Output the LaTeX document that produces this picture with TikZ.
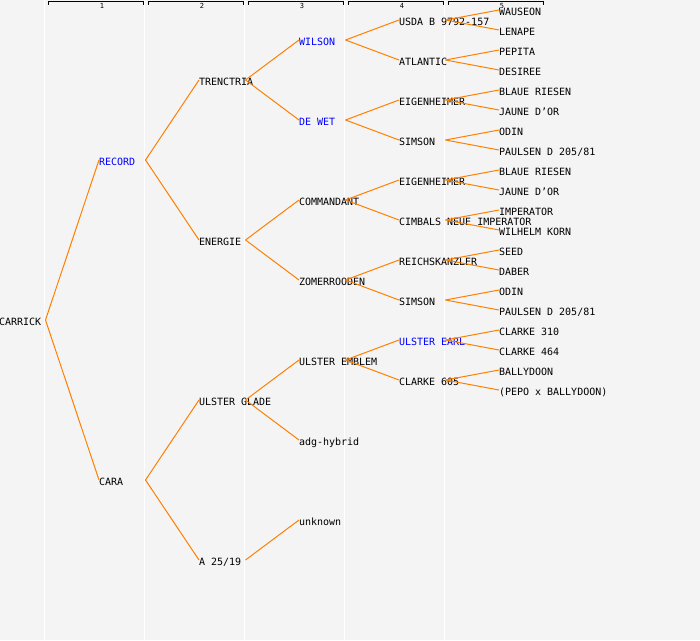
\documentclass[tikz,border=0pt]{standalone}
\usepackage{fontspec}
\usepackage{tikz}
\usetikzlibrary{calc}
\newfontfamily\pedfont{DejaVu Sans Mono}
\definecolor{pedorange}{RGB}{255,128,0}
\definecolor{pedblue}{RGB}{0,0,255}
\definecolor{pedback}{RGB}{244,244,244}

\begin{document}
\begin{tikzpicture}[x=1pt, y=-1pt,
  cultivar/.style={anchor=west, inner sep=0pt, outer sep=0pt, text height=11.3pt, text depth=0pt, font={\pedfont\fontsize{10}{12}\selectfont}},
  keycultivar/.style={cultivar, text=pedblue},
  parentline/.style={pedorange, line width=1pt},
  bracket/.style={black, line width=1pt},
  colnum/.style={inner sep=0pt, font={\pedfont\fontsize{7}{7}\selectfont}}]
\fill[pedback] (0,0) rectangle (700,640);
\useasboundingbox (0,0) rectangle (700,640);
% column guides
\draw[white, line width=1pt] (44.5,0) -- (44.5,640);
\draw[white, line width=1pt] (144.5,0) -- (144.5,640);
\draw[white, line width=1pt] (244.5,0) -- (244.5,640);
\draw[white, line width=1pt] (344.5,0) -- (344.5,640);
\draw[white, line width=1pt] (444.5,0) -- (444.5,640);
\draw[bracket] (48,4.5) -- (48,1.5) -- (143,1.5) -- (143,4.5);
\draw[bracket] (148,4.5) -- (148,1.5) -- (243,1.5) -- (243,4.5);
\draw[bracket] (248,4.5) -- (248,1.5) -- (343,1.5) -- (343,4.5);
\draw[bracket] (348,4.5) -- (348,1.5) -- (443,1.5) -- (443,4.5);
\draw[bracket] (448,4.5) -- (448,1.5) -- (543,1.5) -- (543,4.5);
\node[colnum] (col1) at (102,6) {1};
\node[colnum] (col2) at (202,6) {2};
\node[colnum] (col3) at (302,6) {3};
\node[colnum] (col4) at (402,6) {4};
\node[colnum] (col5) at (502,6) {5};

% generation 0 and 1
\node[cultivar] (carrick) at (-1,320) {CARRICK};
\node[keycultivar] (record) at (99,160) {RECORD};
\node[cultivar] (cara) at (99,480) {CARA};
% generation 2
\node[cultivar] (trenctria) at (199,80) {TRENCTRIA};
\node[cultivar] (energie) at (199,240) {ENERGIE};
\node[cultivar] (ulsterglade) at (199,400) {ULSTER GLADE};
\node[cultivar] (a2519) at (199,560) {A 25/19};
% generation 3
\node[keycultivar] (wilson) at (299,40) {WILSON};
\node[keycultivar] (dewet) at (299,120) {DE WET};
\node[cultivar] (commandant) at (299,200) {COMMANDANT};
\node[cultivar] (zomerrooden) at (299,280) {ZOMERROODEN};
\node[cultivar] (ulsteremblem) at (299,360) {ULSTER EMBLEM};
\node[cultivar] (adghybrid) at (299,440) {adg-hybrid};
\node[cultivar] (unknown) at (299,520) {unknown};
% generation 4
\node[cultivar] (usda) at (399,20) {USDA B 9792-157};
\node[cultivar] (atlantic) at (399,60) {ATLANTIC};
\node[cultivar] (eigenheimerA) at (399,100) {EIGENHEIMER};
\node[cultivar] (simsonA) at (399,140) {SIMSON};
\node[cultivar] (eigenheimerB) at (399,180) {EIGENHEIMER};
\node[cultivar] (cimbals) at (399,220) {CIMBALS NEUE IMPERATOR};
\node[cultivar] (reichskanzler) at (399,260) {REICHSKANZLER};
\node[cultivar] (simsonB) at (399,300) {SIMSON};
\node[keycultivar] (ulsterearl) at (399,340) {ULSTER EARL};
\node[cultivar] (clarke605) at (399,380) {CLARKE 605};
% generation 5
\node[cultivar] (wauseon) at (499,10) {WAUSEON};
\node[cultivar] (lenape) at (499,30) {LENAPE};
\node[cultivar] (pepita) at (499,50) {PEPITA};
\node[cultivar] (desiree) at (499,70) {DESIREE};
\node[cultivar] (blaueA) at (499,90) {BLAUE RIESEN};
\node[cultivar] (jauneA) at (499,110) {JAUNE D’OR};
\node[cultivar] (odinA) at (499,130) {ODIN};
\node[cultivar] (paulsenA) at (499,150) {PAULSEN D 205/81};
\node[cultivar] (blaueB) at (499,170) {BLAUE RIESEN};
\node[cultivar] (jauneB) at (499,190) {JAUNE D’OR};
\node[cultivar] (imperator) at (499,210) {IMPERATOR};
\node[cultivar] (wilhelm) at (499,230) {WILHELM KORN};
\node[cultivar] (seed) at (499,250) {SEED};
\node[cultivar] (daber) at (499,270) {DABER};
\node[cultivar] (odinB) at (499,290) {ODIN};
\node[cultivar] (paulsenB) at (499,310) {PAULSEN D 205/81};
\node[cultivar] (clarke310) at (499,330) {CLARKE 310};
\node[cultivar] (clarke464) at (499,350) {CLARKE 464};
\node[cultivar] (ballydoon) at (499,370) {BALLYDOON};
\node[cultivar] (pepo) at (499,390) {(PEPO x BALLYDOON)};

% parent lines
\draw[parentline] ([xshift=46.5pt]carrick.west) -- (record.west);
\draw[parentline] ([xshift=46.5pt]carrick.west) -- (cara.west);
\draw[parentline] ([xshift=46.5pt]record.west) -- (trenctria.west);
\draw[parentline] ([xshift=46.5pt]record.west) -- (energie.west);
\draw[parentline] ([xshift=46.5pt]cara.west) -- (ulsterglade.west);
\draw[parentline] ([xshift=46.5pt]cara.west) -- (a2519.west);
\draw[parentline] ([xshift=46.5pt]trenctria.west) -- (wilson.west);
\draw[parentline] ([xshift=46.5pt]trenctria.west) -- (dewet.west);
\draw[parentline] ([xshift=46.5pt]energie.west) -- (commandant.west);
\draw[parentline] ([xshift=46.5pt]energie.west) -- (zomerrooden.west);
\draw[parentline] ([xshift=46.5pt]ulsterglade.west) -- (ulsteremblem.west);
\draw[parentline] ([xshift=46.5pt]ulsterglade.west) -- (adghybrid.west);
\draw[parentline] ([xshift=46.5pt]a2519.west) -- (unknown.west);
\draw[parentline] ([xshift=46.5pt]wilson.west) -- (usda.west);
\draw[parentline] ([xshift=46.5pt]wilson.west) -- (atlantic.west);
\draw[parentline] ([xshift=46.5pt]dewet.west) -- (eigenheimerA.west);
\draw[parentline] ([xshift=46.5pt]dewet.west) -- (simsonA.west);
\draw[parentline] ([xshift=46.5pt]commandant.west) -- (eigenheimerB.west);
\draw[parentline] ([xshift=46.5pt]commandant.west) -- (cimbals.west);
\draw[parentline] ([xshift=46.5pt]zomerrooden.west) -- (reichskanzler.west);
\draw[parentline] ([xshift=46.5pt]zomerrooden.west) -- (simsonB.west);
\draw[parentline] ([xshift=46.5pt]ulsteremblem.west) -- (ulsterearl.west);
\draw[parentline] ([xshift=46.5pt]ulsteremblem.west) -- (clarke605.west);
\draw[parentline] ([xshift=46.5pt]usda.west) -- (wauseon.west);
\draw[parentline] ([xshift=46.5pt]usda.west) -- (lenape.west);
\draw[parentline] ([xshift=46.5pt]atlantic.west) -- (pepita.west);
\draw[parentline] ([xshift=46.5pt]atlantic.west) -- (desiree.west);
\draw[parentline] ([xshift=46.5pt]eigenheimerA.west) -- (blaueA.west);
\draw[parentline] ([xshift=46.5pt]eigenheimerA.west) -- (jauneA.west);
\draw[parentline] ([xshift=46.5pt]simsonA.west) -- (odinA.west);
\draw[parentline] ([xshift=46.5pt]simsonA.west) -- (paulsenA.west);
\draw[parentline] ([xshift=46.5pt]eigenheimerB.west) -- (blaueB.west);
\draw[parentline] ([xshift=46.5pt]eigenheimerB.west) -- (jauneB.west);
\draw[parentline] ([xshift=46.5pt]cimbals.west) -- (imperator.west);
\draw[parentline] ([xshift=46.5pt]cimbals.west) -- (wilhelm.west);
\draw[parentline] ([xshift=46.5pt]reichskanzler.west) -- (seed.west);
\draw[parentline] ([xshift=46.5pt]reichskanzler.west) -- (daber.west);
\draw[parentline] ([xshift=46.5pt]simsonB.west) -- (odinB.west);
\draw[parentline] ([xshift=46.5pt]simsonB.west) -- (paulsenB.west);
\draw[parentline] ([xshift=46.5pt]ulsterearl.west) -- (clarke310.west);
\draw[parentline] ([xshift=46.5pt]ulsterearl.west) -- (clarke464.west);
\draw[parentline] ([xshift=46.5pt]clarke605.west) -- (ballydoon.west);
\draw[parentline] ([xshift=46.5pt]clarke605.west) -- (pepo.west);
\end{tikzpicture}
\end{document}
